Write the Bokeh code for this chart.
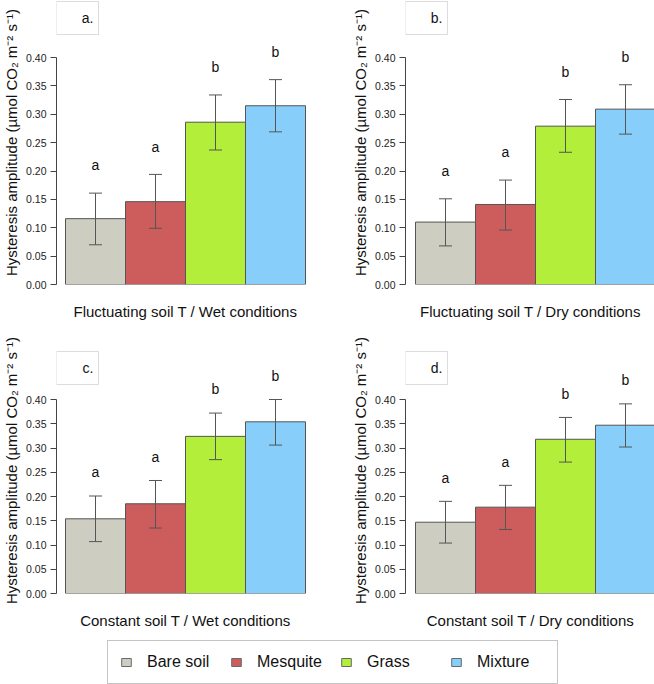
from bokeh.plotting import figure
from bokeh.models import (ColumnDataSource, Range1d, FixedTicker, PrintfTickFormatter,
                          Whisker, TeeHead, BoxAnnotation, Label, Legend, LegendItem)
from bokeh.layouts import column, row
from bokeh.core.properties import value
from bokeh.embed import file_html
from bokeh.resources import INLINE

# ---------------- data ----------------
categories = ["Bare soil", "Mesquite", "Grass", "Mixture"]
colors = ["#CDCDC1", "#CD5C5C", "#B3EE3A", "#87CEFA"]
y_ticks = [0.00, 0.05, 0.10, 0.15, 0.20, 0.25, 0.30, 0.35, 0.40]
y_label = "Hysteresis amplitude (\u00b5mol CO\u2082 m\u207b\u00b2 s\u207b\u00b9)"

a_mean = [0.116, 0.146, 0.286, 0.315]
a_lower = [0.070, 0.099, 0.237, 0.269]
a_upper = [0.161, 0.194, 0.334, 0.361]
a_letters = ["a", "a", "b", "b"]

b_mean = [0.110, 0.141, 0.279, 0.309]
b_lower = [0.068, 0.096, 0.233, 0.265]
b_upper = [0.151, 0.184, 0.326, 0.352]
b_letters = ["a", "a", "b", "b"]

c_mean = [0.154, 0.185, 0.324, 0.354]
c_lower = [0.107, 0.135, 0.276, 0.306]
c_upper = [0.201, 0.233, 0.372, 0.400]
c_letters = ["a", "a", "b", "b"]

d_mean = [0.147, 0.178, 0.318, 0.347]
d_lower = [0.104, 0.132, 0.271, 0.302]
d_upper = [0.190, 0.223, 0.363, 0.391]
d_letters = ["a", "a", "b", "b"]

panel_tags = ["a.", "b.", "c.", "d."]
x_titles = ["Fluctuating soil T / Wet conditions", "Fluctuating soil T / Dry conditions",
            "Constant soil T / Wet conditions", "Constant soil T / Dry conditions"]

FONT = "Liberation Sans"
BAR_PX = 60.0
LETTER_GAP = 0.049
EDGE = "#555555"


def make_panel(mean, lower, upper, letters, tag, xtitle, gap,
               frame_w, frame_h, mb_left, mb_right, mb_top, mb_bottom, px_per_04, box_off):
    x0 = 0.5 - gap / BAR_PX
    x1 = x0 + frame_w / BAR_PX
    ytop = 0.4 * frame_h / px_per_04
    p = figure(frame_width=frame_w, frame_height=frame_h,
               min_border_left=mb_left, min_border_right=mb_right,
               min_border_top=mb_top, min_border_bottom=mb_bottom,
               x_range=Range1d(x0, x1), y_range=Range1d(0, ytop),
               output_backend="svg", toolbar_location=None, tools="")
    p.outline_line_color = None
    p.grid.visible = False
    p.background_fill_color = "white"
    p.border_fill_color = "white"

    xs = list(range(1, len(categories) + 1))
    src = ColumnDataSource(dict(
        x=xs, cat=categories, top=mean, lower=lower, upper=upper, color=colors,
        letter=letters, ly=[u + LETTER_GAP for u in upper]))
    p.vbar(x="x", top="top", bottom=0, width=1.0, source=src,
           fill_color="color", line_color=EDGE, line_width=1)
    w = Whisker(base="x", upper="upper", lower="lower", source=src, level="annotation",
                line_color=EDGE, line_width=1,
                upper_head=TeeHead(size=13, line_color=EDGE, line_width=1),
                lower_head=TeeHead(size=13, line_color=EDGE, line_width=1))
    p.add_layout(w)
    p.text(x="x", y="ly", text="letter", source=src, text_align="center",
           text_baseline="middle", text_font=value(FONT), text_font_size="14px",
           text_color="#111111")

    # y axis
    ya = p.yaxis[0]
    ya.ticker = FixedTicker(ticks=y_ticks)
    ya.formatter = PrintfTickFormatter(format="%.2f")
    ya.bounds = (0, 0.4)
    ya.minor_tick_line_color = None
    ya.major_tick_in = 0
    ya.major_tick_out = 6
    ya.major_label_standoff = 4
    ya.major_label_text_font = FONT
    ya.major_label_text_font_size = "10.5px"
    ya.major_label_text_color = "#222222"
    ya.axis_line_color = "#444444"
    ya.major_tick_line_color = "#444444"
    ya.axis_label = y_label
    ya.axis_label_text_font = FONT
    ya.axis_label_text_font_size = "15px"
    ya.axis_label_text_font_style = "normal"
    ya.axis_label_text_color = "#111111"
    ya.axis_label_standoff = 3

    # x axis: title only
    xa = p.xaxis[0]
    xa.ticker = FixedTicker(ticks=[])
    xa.axis_line_color = None
    xa.major_tick_line_color = None
    xa.minor_tick_line_color = None
    xa.major_tick_out = 0
    xa.major_tick_in = 0
    xa.major_label_standoff = 0
    xa.major_label_text_font_size = "0px"
    xa.axis_label = xtitle
    xa.axis_label_text_font = FONT
    xa.axis_label_text_font_size = "15px"
    xa.axis_label_text_font_style = "normal"
    xa.axis_label_text_color = "#111111"
    xa.axis_label_standoff = 18

    # panel tag box
    box_top = frame_h - box_off
    p.add_layout(BoxAnnotation(left=0, right=42, top=box_top, bottom=box_top - 33,
                               left_units="screen", right_units="screen",
                               top_units="screen", bottom_units="screen",
                               fill_color=None, line_color="#8c8c8c", line_width=1))
    p.add_layout(Label(x=37, y=box_top - 16.5, x_units="screen", y_units="screen",
                       text=tag, text_align="right", text_baseline="middle",
                       text_font=FONT, text_font_size="14px", text_color="#111111"))
    return p


pa = make_panel(a_mean, a_lower, a_upper, a_letters, panel_tags[0], x_titles[0], 9,
                258, 284, 55, 14, 0, 52, 227.0, 1)
pb = make_panel(b_mean, b_lower, b_upper, b_letters, panel_tags[1], x_titles[1], 10,
                250, 284, 77, 0, 0, 52, 227.0, 1)
pc = make_panel(c_mean, c_lower, c_upper, c_letters, panel_tags[2], x_titles[2], 9,
                258, 246, 55, 14, 11, 37, 194.0, 4)
pd = make_panel(d_mean, d_lower, d_upper, d_letters, panel_tags[3], x_titles[3], 10,
                250, 246, 77, 0, 11, 37, 194.0, 4)

# legend panel (swatches come from a hidden renderer of the category colours)
pl = figure(width=654, height=54, min_border=0, x_range=Range1d(0, 5), y_range=Range1d(0, 1),
            output_backend="svg", toolbar_location=None, tools="",
            x_axis_type=None, y_axis_type=None)
pl.outline_line_color = None
pl.grid.visible = False
leg_src = ColumnDataSource(dict(x=list(range(1, len(categories) + 1)),
                                top=a_mean, color=colors))
r_leg = pl.vbar(x="x", top="top", width=1, source=leg_src,
                fill_color="color", line_color="#6a6a6a", line_width=1)
r_leg.visible = False
items = [LegendItem(label=cat, renderers=[r_leg], index=i) for i, cat in enumerate(categories)]
leg = Legend(items=items, orientation="horizontal", location=(107, 1), margin=0,
             padding=12, spacing=15, label_standoff=15, glyph_width=12, glyph_height=10,
             label_width=68, label_height=16, label_text_font=FONT,
             label_text_font_size="16px", label_text_color="#111111",
             label_text_baseline="middle",
             inactive_fill_alpha=0.0,
             border_line_color="#8c8c8c", border_line_width=1,
             background_fill_color="white", background_fill_alpha=1)
pl.add_layout(leg, "center")

layout = column(row(pa, pb), row(pc, pd), pl)
open("out.html", "w").write(file_html(layout, INLINE))
